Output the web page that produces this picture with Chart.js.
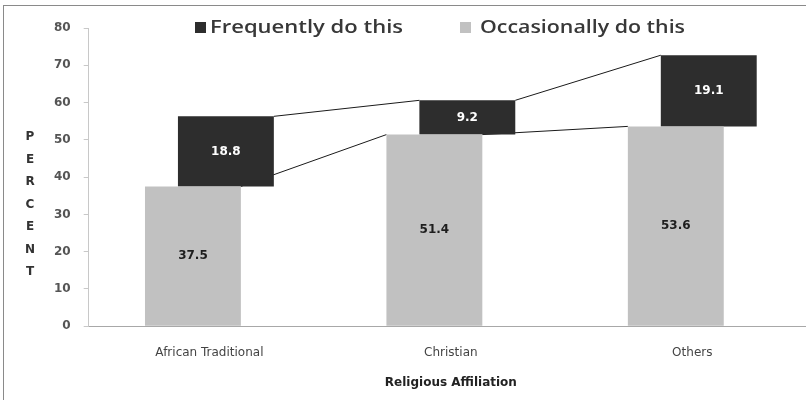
<!DOCTYPE html>
<html>
<head>
<meta charset="utf-8">
<script src="https://cdn.jsdelivr.net/npm/chart.js@4.4.1/dist/chart.umd.min.js"></script>
<style>
  html, body { margin: 0; padding: 0; background: #fff; overflow: hidden; width: 806px; height: 400px; }
  #wrap { width: 822px; height: 400px; }
</style>
</head>
<body>
<div id="wrap"><canvas id="c" width="822" height="400"></canvas></div>
<script>
const categories = ['African Traditional', 'Christian', 'Others'];
const occasionally = [37.5, 51.4, 53.6];
const frequently = [18.8, 9.2, 19.1];
const seriesNames = ['Frequently do this', 'Occasionally do this'];
const yAxisTitle = 'PERCENT';
const xAxisTitle = 'Religious Affiliation';
const yMin = 0, yMax = 80, yStep = 10;

const DARK = '#2d2d2d';
const LIGHT = '#c1c1c1';
const FONT = '"DejaVu Sans", sans-serif';
const LEGEND_FONT = '"Open Sans", sans-serif';

const frequentFloat = frequently.map((f, i) => [occasionally[i], occasionally[i] + f]);

const seriesLinesPlugin = {
  id: 'seriesLines',
  beforeDatasetsDraw(chart) {
    const ctx = chart.ctx;
    ctx.save();
    ctx.strokeStyle = '#1a1a1a';
    ctx.lineWidth = 1;
    chart.data.datasets.forEach((ds, di) => {
      const meta = chart.getDatasetMeta(di);
      for (let i = 0; i < meta.data.length - 1; i++) {
        const a = meta.data[i], b = meta.data[i + 1];
        ctx.beginPath();
        ctx.moveTo(a.x + a.width / 2, a.y);
        ctx.lineTo(b.x - b.width / 2, b.y);
        ctx.stroke();
      }
    });
    ctx.restore();
  }
};

const valueLabelsPlugin = {
  id: 'valueLabels',
  afterDatasetsDraw(chart) {
    const ctx = chart.ctx;
    ctx.save();
    ctx.font = 'bold 12px ' + FONT;
    ctx.textAlign = 'center';
    ctx.textBaseline = 'middle';
    chart.data.datasets.forEach((ds, di) => {
      const meta = chart.getDatasetMeta(di);
      meta.data.forEach((el, i) => {
        const v = ds.valuesForLabel[i];
        ctx.fillStyle = ds.labelColor;
        ctx.fillText(v.toFixed(1), el.x, (el.y + el.base) / 2);
      });
    });
    ctx.restore();
  }
};

const decorPlugin = {
  id: 'decor',
  afterDraw(chart) {
    const ctx = chart.ctx;
    ctx.save();
    // outer border
    ctx.strokeStyle = '#8a8a8a';
    ctx.lineWidth = 1;
    ctx.strokeRect(3.5, 5.5, 1000, 1000);
    // vertical letter-stacked y title
    ctx.fillStyle = '#333';
    ctx.font = 'bold 12px ' + FONT;
    ctx.textAlign = 'center';
    ctx.textBaseline = 'middle';
    const letters = yAxisTitle.split('');
    const step = 22.5;
    const cy = 204.5;
    const y0 = cy - step * (letters.length - 1) / 2;
    letters.forEach((ch, i) => ctx.fillText(ch, 30, y0 + i * step));
    // legend
    ctx.font = '600 18px ' + LEGEND_FONT;
    ctx.textAlign = 'left';
    const items = [
      { text: seriesNames[0], color: DARK, bx: 195, tx: 210, w: 193 },
      { text: seriesNames[1], color: LIGHT, bx: 460, tx: 480, w: 205 }
    ];
    items.forEach(it => {
      ctx.fillStyle = it.color;
      ctx.fillRect(it.bx, 22, 11, 11);
      ctx.fillStyle = '#383838';
      const mw = ctx.measureText(it.text).width;
      const sx = it.w / mw;
      ctx.save();
      ctx.translate(it.tx, 28);
      ctx.scale(sx, 1);
      ctx.fillText(it.text, 0, 0);
      ctx.restore();
    });
    ctx.restore();
  }
};

new Chart(document.getElementById('c'), {
  type: 'bar',
  data: {
    labels: categories,
    datasets: [
      {
        label: seriesNames[1],
        data: occasionally,
        valuesForLabel: occasionally,
        labelColor: '#1e1e1e',
        backgroundColor: LIGHT,
        borderWidth: 0
      },
      {
        label: seriesNames[0],
        data: frequentFloat,
        valuesForLabel: frequently,
        labelColor: '#ffffff',
        backgroundColor: DARK,
        borderWidth: 0
      }
    ]
  },
  options: {
    responsive: false,
    animation: false,
    categoryPercentage: 0.273,
    barPercentage: 2.91,
    layout: { padding: { left: 41, right: 9, top: 28, bottom: 10 } },
    plugins: {
      legend: { display: false },
      tooltip: { enabled: false }
    },
    scales: {
      x: {
        grid: { display: false, drawTicks: false },
        border: { display: true, color: '#a8a8a8', width: 1 },
        ticks: { color: '#444', font: { family: FONT, size: 12 }, padding: 19 },
        title: {
          display: true, text: xAxisTitle, color: '#222',
          font: { family: FONT, size: 12, weight: 'bold' },
          padding: { top: -3, bottom: 0 }
        }
      },
      y: {
        min: yMin, max: yMax,
        grid: { display: true, drawOnChartArea: false, drawTicks: true, tickLength: 5, color: '#c8c8c8' },
        border: { display: true, color: '#c8c8c8', width: 1 },
        ticks: { stepSize: yStep, color: '#555', font: { family: FONT, size: 12, weight: 'bold' }, padding: 13 }
      }
    }
  },
  plugins: [seriesLinesPlugin, valueLabelsPlugin, decorPlugin]
});
</script>
</body>
</html>
